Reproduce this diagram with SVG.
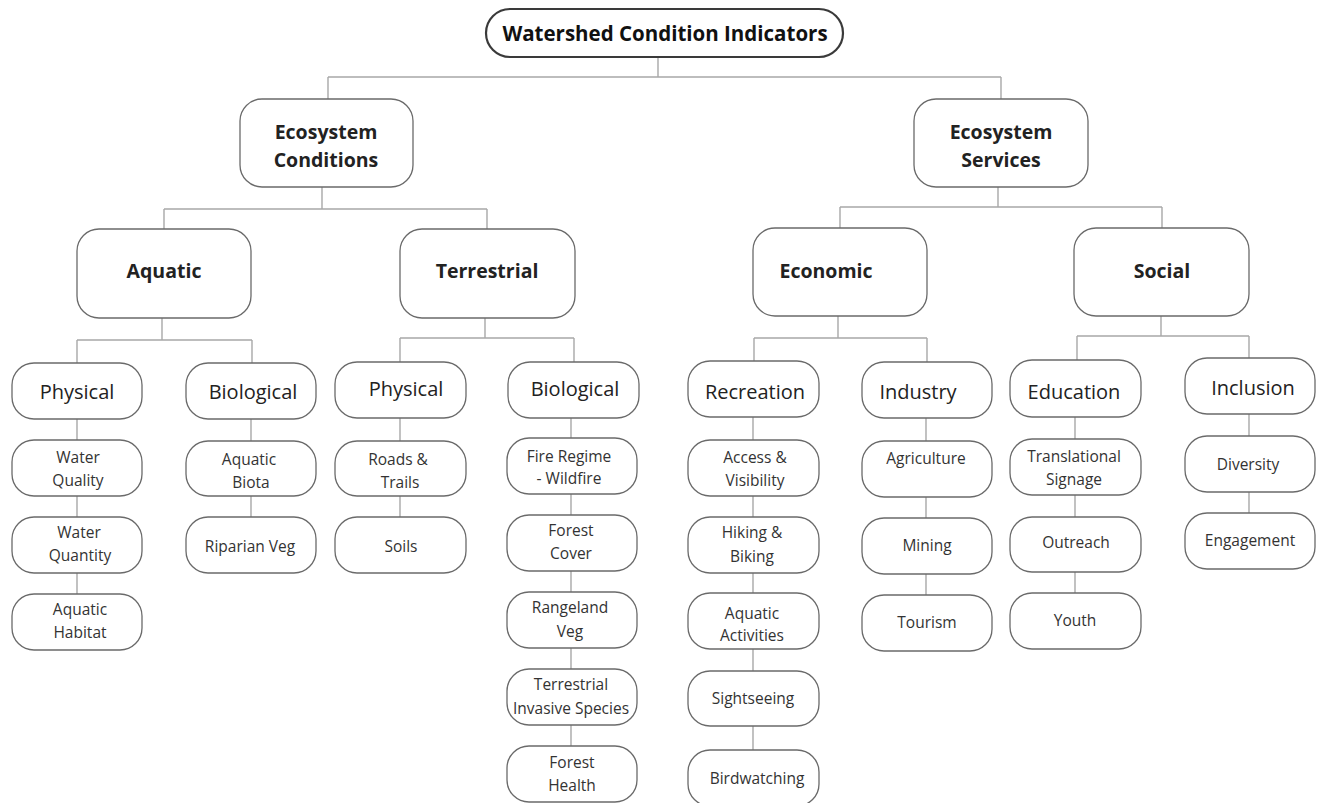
<svg xmlns="http://www.w3.org/2000/svg" width="1322" height="803" viewBox="0 0 1322 803">
<style>
.bx{fill:#fff;stroke:#6a6a6a;stroke-width:1.3}
.tb{fill:#fff;stroke:#3a3a3a;stroke-width:2.2}
.cn{fill:none;stroke:#a8a8a8;stroke-width:1.4}
text{font-family:"Open Sans","Noto Sans","Liberation Sans",sans-serif;text-anchor:middle;dominant-baseline:central}
.t0{font-size:20.5px;font-weight:700;fill:#111}
.t1{font-size:19.5px;font-weight:700;fill:#222}
.t3{font-size:20px;font-weight:500;fill:#222}
.t4{font-size:15.5px;font-weight:400;fill:#333}
</style>
<rect width="1322" height="803" fill="#fff"/>
<g id="connectors">
<path class="cn" d="M658 57V77M328 77H1001M328 77V99M1001 77V99"/>
<path class="cn" d="M322 187V209M164 209H487M164 209V229M487 209V229"/>
<path class="cn" d="M998 187V207M840 207H1162M840 207V228M1162 207V228"/>
<path class="cn" d="M162 318V340M77 340H252M77 340V363M252 340V363"/>
<path class="cn" d="M485 318V338M400 338H574M400 338V362M574 338V362"/>
<path class="cn" d="M838 316V338M754 338H927M754 338V361M927 338V362"/>
<path class="cn" d="M1161 316V336M1077 336H1249M1077 336V360M1249 336V358"/>
<path class="cn" d="M77 419V440M77 496V517M77 573V594"/>
<path class="cn" d="M251 419V441M251 496V517"/>
<path class="cn" d="M400 418V441M400 496V517"/>
<path class="cn" d="M571 418V438M571 494V515M571 571V592M571 648V669M571 725V746"/>
<path class="cn" d="M753 417V440M753 496V517M753 573V593M753 649V671M753 726V750"/>
<path class="cn" d="M926 418V441M926 497V518M926 574V595"/>
<path class="cn" d="M1075 417V439M1075 495V517M1075 572V593"/>
<path class="cn" d="M1249 414V436M1249 492V513"/>
</g>
<g id="n-root"><rect class="tb" x="486" y="9" width="357" height="48" rx="24"/><text class="t0" x="665" y="33">Watershed Condition Indicators</text></g>
<g id="n-ec"><rect class="bx" x="240" y="99" width="173" height="88" rx="22"/><text class="t1" x="326" y="131">Ecosystem</text><text class="t1" x="326" y="159">Conditions</text></g>
<g id="n-es"><rect class="bx" x="914" y="99" width="174" height="88" rx="22"/><text class="t1" x="1001" y="131">Ecosystem</text><text class="t1" x="1001" y="159">Services</text></g>
<g id="n-aquatic"><rect class="bx" x="77" y="229" width="174" height="89" rx="22"/><text class="t1" x="164" y="270">Aquatic</text></g>
<g id="n-terrestrial"><rect class="bx" x="400" y="229" width="175" height="89" rx="22"/><text class="t1" x="487" y="270">Terrestrial</text></g>
<g id="n-economic"><rect class="bx" x="753" y="228" width="174" height="88" rx="22"/><text class="t1" x="826" y="270">Economic</text></g>
<g id="n-social"><rect class="bx" x="1074" y="228" width="175" height="88" rx="22"/><text class="t1" x="1162" y="270">Social</text></g>
<g id="n-aq-phys"><rect class="bx" x="12" y="363" width="130" height="56" rx="22"/><text class="t3" x="77" y="391">Physical</text></g>
<g id="n-aq-bio"><rect class="bx" x="186" y="363" width="130" height="56" rx="22"/><text class="t3" x="253" y="391">Biological</text></g>
<g id="n-te-phys"><rect class="bx" x="335" y="362" width="131" height="56" rx="22"/><text class="t3" x="406" y="388">Physical</text></g>
<g id="n-te-bio"><rect class="bx" x="508" y="362" width="131" height="56" rx="22"/><text class="t3" x="575" y="388">Biological</text></g>
<g id="n-recreation"><rect class="bx" x="688" y="361" width="131" height="56" rx="22"/><text class="t3" x="755" y="391">Recreation</text></g>
<g id="n-industry"><rect class="bx" x="862" y="362" width="130" height="56" rx="22"/><text class="t3" x="918" y="391">Industry</text></g>
<g id="n-education"><rect class="bx" x="1010" y="360" width="131" height="57" rx="22"/><text class="t3" x="1074" y="391">Education</text></g>
<g id="n-inclusion"><rect class="bx" x="1185" y="358" width="130" height="56" rx="22"/><text class="t3" x="1253" y="387">Inclusion</text></g>
<g id="n-water-quality"><rect class="bx" x="12" y="440" width="130" height="56" rx="22"/><text class="t4" x="78" y="457">Water</text><text class="t4" x="78" y="480">Quality</text></g>
<g id="n-water-quantity"><rect class="bx" x="12" y="517" width="130" height="56" rx="22"/><text class="t4" x="79" y="532">Water</text><text class="t4" x="80" y="555">Quantity</text></g>
<g id="n-aquatic-habitat"><rect class="bx" x="12" y="594" width="130" height="56" rx="22"/><text class="t4" x="80" y="609">Aquatic</text><text class="t4" x="80" y="632">Habitat</text></g>
<g id="n-aquatic-biota"><rect class="bx" x="186" y="441" width="130" height="55" rx="22"/><text class="t4" x="249" y="459">Aquatic</text><text class="t4" x="251" y="482">Biota</text></g>
<g id="n-riparian-veg"><rect class="bx" x="186" y="517" width="130" height="56" rx="22"/><text class="t4" x="250" y="546">Riparian Veg</text></g>
<g id="n-roads-trails"><rect class="bx" x="335" y="441" width="131" height="55" rx="22"/><text class="t4" x="398" y="459">Roads &amp;</text><text class="t4" x="400" y="482">Trails</text></g>
<g id="n-soils"><rect class="bx" x="335" y="517" width="131" height="56" rx="22"/><text class="t4" x="401" y="546">Soils</text></g>
<g id="n-fire-regime"><rect class="bx" x="507" y="438" width="130" height="56" rx="22"/><text class="t4" x="569" y="456">Fire Regime</text><text class="t4" x="569" y="478">- Wildfire</text></g>
<g id="n-forest-cover"><rect class="bx" x="507" y="515" width="130" height="56" rx="22"/><text class="t4" x="571" y="530">Forest</text><text class="t4" x="571" y="553">Cover</text></g>
<g id="n-rangeland-veg"><rect class="bx" x="507" y="592" width="130" height="56" rx="22"/><text class="t4" x="570" y="607">Rangeland</text><text class="t4" x="570" y="631">Veg</text></g>
<g id="n-terr-invasive"><rect class="bx" x="507" y="669" width="130" height="56" rx="22"/><text class="t4" x="571" y="684">Terrestrial</text><text class="t4" x="571" y="708">Invasive Species</text></g>
<g id="n-forest-health"><rect class="bx" x="507" y="746" width="130" height="56" rx="22"/><text class="t4" x="572" y="762">Forest</text><text class="t4" x="572" y="785">Health</text></g>
<g id="n-access"><rect class="bx" x="688" y="440" width="131" height="56" rx="22"/><text class="t4" x="755" y="457">Access &amp;</text><text class="t4" x="755" y="480">Visibility</text></g>
<g id="n-hiking"><rect class="bx" x="688" y="517" width="131" height="56" rx="22"/><text class="t4" x="752" y="532">Hiking &amp;</text><text class="t4" x="752" y="556">Biking</text></g>
<g id="n-aquatic-act"><rect class="bx" x="688" y="593" width="131" height="56" rx="22"/><text class="t4" x="752" y="613">Aquatic</text><text class="t4" x="752" y="635">Activities</text></g>
<g id="n-sightseeing"><rect class="bx" x="688" y="671" width="131" height="55" rx="22"/><text class="t4" x="753" y="698">Sightseeing</text></g>
<g id="n-birdwatching"><rect class="bx" x="688" y="750" width="131" height="56" rx="22"/><text class="t4" x="757" y="778">Birdwatching</text></g>
<g id="n-agriculture"><rect class="bx" x="862" y="441" width="130" height="56" rx="22"/><text class="t4" x="926" y="458">Agriculture</text></g>
<g id="n-mining"><rect class="bx" x="862" y="518" width="130" height="56" rx="22"/><text class="t4" x="927" y="545">Mining</text></g>
<g id="n-tourism"><rect class="bx" x="862" y="595" width="130" height="56" rx="22"/><text class="t4" x="927" y="622">Tourism</text></g>
<g id="n-translational"><rect class="bx" x="1010" y="439" width="131" height="56" rx="22"/><text class="t4" x="1074" y="456">Translational</text><text class="t4" x="1074" y="479">Signage</text></g>
<g id="n-outreach"><rect class="bx" x="1010" y="517" width="131" height="55" rx="22"/><text class="t4" x="1076" y="542">Outreach</text></g>
<g id="n-youth"><rect class="bx" x="1010" y="593" width="131" height="56" rx="22"/><text class="t4" x="1075" y="620">Youth</text></g>
<g id="n-diversity"><rect class="bx" x="1185" y="436" width="130" height="56" rx="22"/><text class="t4" x="1248" y="464">Diversity</text></g>
<g id="n-engagement"><rect class="bx" x="1185" y="513" width="130" height="56" rx="22"/><text class="t4" x="1250" y="540">Engagement</text></g>
</svg>
